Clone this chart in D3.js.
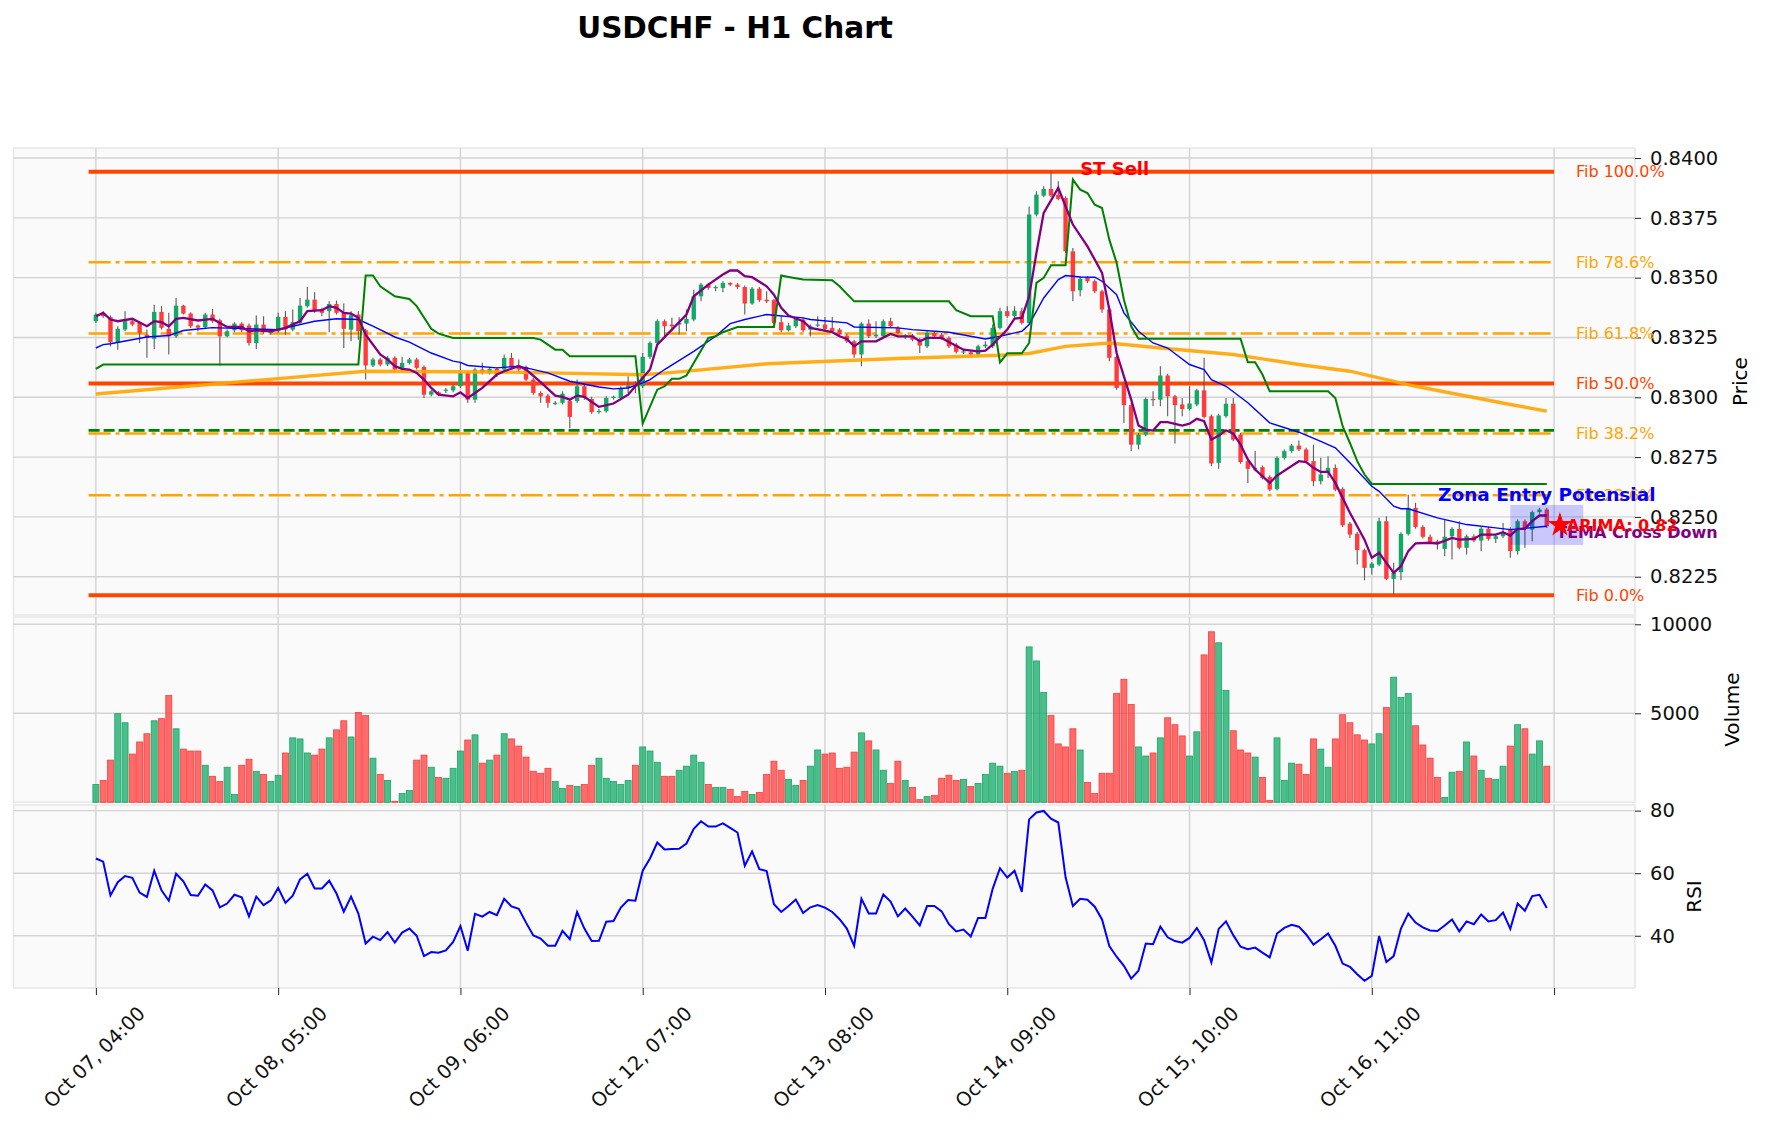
<!DOCTYPE html>
<html>
<head>
<meta charset="utf-8">
<script src="https://cdn.jsdelivr.net/npm/d3@7"></script>
<style>
  body { margin: 0; background: #fff; }
  svg { display: block; font-family: "DejaVu Sans", sans-serif; }
</style>
</head>
<body>
<svg width="1765" height="1134"></svg>
<script>
// ---- data (hourly bars, index 0..199) ----
var xTickIdx = [0, 25, 50, 75, 100, 125, 150, 175, 200];
var xLabels = ["Oct 07, 04:00", "Oct 08, 05:00", "Oct 09, 06:00", "Oct 12, 07:00",
  "Oct 13, 08:00", "Oct 14, 09:00", "Oct 15, 10:00", "Oct 16, 11:00", ""];

var openP = [
0.83318,0.83353,0.83335,0.83230,0.83283,0.83318,0.83311,0.83262,0.83244,0.83357,
0.83286,0.83255,0.83383,0.83350,0.83300,0.83293,0.83346,0.83322,0.83255,0.83280,
0.83308,0.83300,0.83227,0.83304,0.83269,0.83276,0.83336,0.83283,0.83311,0.83381,
0.83408,0.83369,0.83360,0.83390,0.83353,0.83283,0.83346,0.83280,0.83133,0.83158,
0.83137,0.83165,0.83116,0.83144,0.83158,0.83127,0.83011,0.83021,0.83027,0.83029,
0.83046,0.83102,0.82990,0.83116,0.83102,0.83119,0.83116,0.83165,0.83133,0.83127,
0.83074,0.83018,0.83007,0.82974,0.82977,0.82984,0.82984,0.83046,0.82993,0.82938,
0.82942,0.82997,0.82997,0.83039,0.83053,0.83046,0.83169,0.83227,0.83318,0.83304,
0.83304,0.83308,0.83325,0.83422,0.83471,0.83457,0.83457,0.83478,0.83471,0.83461,
0.83392,0.83454,0.83408,0.83406,0.83314,0.83280,0.83297,0.83325,0.83283,0.83300,
0.83304,0.83290,0.83283,0.83258,0.83234,0.83179,0.83308,0.83255,0.83255,0.83318,
0.83290,0.83251,0.83258,0.83241,0.83213,0.83269,0.83262,0.83248,0.83220,0.83188,
0.83188,0.83179,0.83213,0.83213,0.83290,0.83360,0.83339,0.83360,0.83311,0.83764,
0.83843,0.83871,0.83847,0.83833,0.83610,0.83447,0.83499,0.83485,0.83443,0.83367,
0.83169,0.83053,0.82967,0.82802,0.82844,0.82993,0.82990,0.83091,0.83004,0.82970,
0.82951,0.82970,0.83029,0.82921,0.82726,0.82921,0.82973,0.82844,0.82733,0.82698,
0.82708,0.82667,0.82617,0.82747,0.82775,0.82798,0.82782,0.82733,0.82649,0.82684,
0.82705,0.82617,0.82472,0.82430,0.82361,0.82287,0.82301,0.82482,0.82241,0.82269,
0.82429,0.82538,0.82458,0.82417,0.82398,0.82366,0.82419,0.82450,0.82371,0.82419,
0.82401,0.82451,0.82408,0.82419,0.82450,0.82357,0.82482,0.82447,0.82520,0.82531];

var highP = [
0.83353,0.83360,0.83342,0.83297,0.83360,0.83325,0.83318,0.83283,0.83387,0.83381,
0.83353,0.83415,0.83387,0.83355,0.83304,0.83353,0.83369,0.83328,0.83283,0.83314,
0.83314,0.83308,0.83342,0.83339,0.83280,0.83353,0.83360,0.83367,0.83415,0.83461,
0.83439,0.83374,0.83401,0.83404,0.83392,0.83360,0.83360,0.83286,0.83165,0.83165,
0.83172,0.83172,0.83169,0.83165,0.83165,0.83133,0.83032,0.83025,0.83039,0.83053,
0.83144,0.83109,0.83123,0.83144,0.83126,0.83126,0.83179,0.83185,0.83158,0.83133,
0.83081,0.83025,0.83015,0.82984,0.83025,0.82990,0.83074,0.83053,0.83002,0.82951,
0.83004,0.83007,0.83046,0.83088,0.83067,0.83185,0.83234,0.83325,0.83325,0.83332,
0.83335,0.83367,0.83450,0.83478,0.83478,0.83467,0.83485,0.83481,0.83478,0.83467,
0.83461,0.83461,0.83443,0.83411,0.83339,0.83311,0.83336,0.83332,0.83304,0.83339,
0.83336,0.83336,0.83290,0.83266,0.83241,0.83314,0.83325,0.83318,0.83325,0.83332,
0.83297,0.83265,0.83265,0.83248,0.83276,0.83276,0.83269,0.83255,0.83227,0.83199,
0.83195,0.83220,0.83234,0.83304,0.83374,0.83381,0.83381,0.83374,0.83798,0.83861,
0.83882,0.83943,0.83903,0.83840,0.83624,0.83506,0.83506,0.83492,0.83450,0.83374,
0.83174,0.83060,0.82977,0.82851,0.83000,0.83025,0.83130,0.83098,0.83011,0.82997,
0.83046,0.83036,0.83165,0.82928,0.82931,0.82997,0.82997,0.82851,0.82740,0.82775,
0.82715,0.82674,0.82754,0.82782,0.82805,0.82819,0.82789,0.82802,0.82747,0.82754,
0.82719,0.82624,0.82479,0.82437,0.82368,0.82312,0.82496,0.82503,0.82308,0.82436,
0.82593,0.82559,0.82465,0.82426,0.82405,0.82489,0.82457,0.82482,0.82426,0.82426,
0.82458,0.82458,0.82426,0.82475,0.82457,0.82489,0.82489,0.82527,0.82538,0.82538];

var lowP = [
0.83311,0.83332,0.83213,0.83199,0.83276,0.83297,0.83227,0.83165,0.83202,0.83283,
0.83179,0.83248,0.83346,0.83290,0.83276,0.83286,0.83311,0.83133,0.83251,0.83272,
0.83272,0.83216,0.83202,0.83266,0.83262,0.83269,0.83262,0.83276,0.83304,0.83374,
0.83353,0.83339,0.83272,0.83346,0.83206,0.83234,0.83241,0.83074,0.83127,0.83130,
0.83130,0.83109,0.83109,0.83137,0.83116,0.82997,0.83004,0.83004,0.83018,0.83021,
0.83039,0.82977,0.82977,0.83095,0.83095,0.83085,0.83109,0.83123,0.83109,0.83067,
0.83011,0.82977,0.82956,0.82967,0.82970,0.82872,0.82977,0.82990,0.82931,0.82931,
0.82935,0.82990,0.82990,0.83018,0.83018,0.83039,0.83160,0.83220,0.83248,0.83276,
0.83262,0.83276,0.83318,0.83401,0.83450,0.83443,0.83439,0.83464,0.83453,0.83346,
0.83387,0.83399,0.83394,0.83304,0.83272,0.83275,0.83290,0.83272,0.83255,0.83293,
0.83276,0.83269,0.83255,0.83227,0.83165,0.83130,0.83248,0.83248,0.83248,0.83290,
0.83262,0.83244,0.83234,0.83185,0.83206,0.83248,0.83241,0.83206,0.83183,0.83181,
0.83172,0.83172,0.83206,0.83206,0.83283,0.83332,0.83332,0.83304,0.83304,0.83757,
0.83837,0.83837,0.83824,0.83603,0.83401,0.83422,0.83478,0.83436,0.83353,0.83151,
0.83032,0.82893,0.82775,0.82782,0.82837,0.82963,0.82963,0.82921,0.82807,0.82921,
0.82945,0.82963,0.82911,0.82712,0.82701,0.82914,0.82816,0.82722,0.82642,0.82691,
0.82656,0.82607,0.82610,0.82740,0.82768,0.82775,0.82726,0.82628,0.82635,0.82663,
0.82607,0.82458,0.82412,0.82301,0.82235,0.82259,0.82294,0.82235,0.82175,0.82235,
0.82422,0.82451,0.82410,0.82389,0.82364,0.82336,0.82322,0.82364,0.82343,0.82394,
0.82357,0.82401,0.82391,0.82412,0.82329,0.82343,0.82371,0.82398,0.82513,0.82454];

var closeP = [
0.83346,0.83339,0.83230,0.83286,0.83318,0.83304,0.83269,0.83248,0.83357,0.83290,
0.83255,0.83383,0.83350,0.83297,0.83291,0.83346,0.83318,0.83255,0.83276,0.83308,
0.83280,0.83227,0.83304,0.83272,0.83276,0.83336,0.83283,0.83314,0.83383,0.83408,
0.83360,0.83353,0.83390,0.83353,0.83286,0.83343,0.83276,0.83133,0.83158,0.83137,
0.83165,0.83116,0.83144,0.83158,0.83123,0.83011,0.83025,0.83011,0.83032,0.83046,
0.83102,0.82990,0.83116,0.83102,0.83119,0.83095,0.83165,0.83130,0.83116,0.83074,
0.83018,0.83004,0.82977,0.82977,0.83015,0.82918,0.83046,0.82997,0.82938,0.82943,
0.82997,0.83002,0.83039,0.83049,0.83046,0.83169,0.83227,0.83318,0.83297,0.83297,
0.83311,0.83328,0.83422,0.83471,0.83457,0.83461,0.83478,0.83471,0.83461,0.83392,
0.83454,0.83406,0.83401,0.83311,0.83280,0.83300,0.83328,0.83280,0.83297,0.83304,
0.83286,0.83276,0.83262,0.83234,0.83179,0.83308,0.83255,0.83262,0.83318,0.83297,
0.83269,0.83258,0.83241,0.83216,0.83269,0.83255,0.83248,0.83213,0.83190,0.83192,
0.83179,0.83213,0.83220,0.83290,0.83360,0.83339,0.83362,0.83311,0.83764,0.83847,
0.83871,0.83843,0.83829,0.83610,0.83443,0.83495,0.83485,0.83443,0.83367,0.83165,
0.83039,0.82967,0.82802,0.82844,0.82993,0.82988,0.83091,0.83004,0.82967,0.82951,
0.82974,0.83029,0.82918,0.82723,0.82924,0.82973,0.82823,0.82729,0.82701,0.82705,
0.82663,0.82614,0.82747,0.82775,0.82798,0.82782,0.82733,0.82649,0.82677,0.82705,
0.82614,0.82465,0.82426,0.82361,0.82287,0.82305,0.82482,0.82241,0.82266,0.82429,
0.82538,0.82458,0.82417,0.82396,0.82391,0.82417,0.82450,0.82371,0.82419,0.82401,
0.82451,0.82408,0.82419,0.82436,0.82357,0.82482,0.82450,0.82520,0.82531,0.82461];

var volume = [
1000,1230,2370,4980,4470,2710,3390,3850,4580,4700,
6000,4130,2990,2880,2880,2080,1460,1170,1970,440,
2080,2420,1740,1570,1170,1520,2770,3620,3560,2770,
2650,2990,3620,4070,4580,3670,5040,4870,2480,1570,
1230,60,490,660,2370,2650,1970,1400,1350,1910,
2880,3500,3790,2200,2370,2650,3850,3560,3160,2540,
1740,1630,1910,1170,780,950,890,1000,2080,2480,
1350,1170,1000,1230,2080,3110,2880,2250,1460,1460,
1800,2030,2650,2250,1000,830,830,720,320,610,
440,550,1570,2310,1800,1290,950,1230,2030,2940,
2710,2770,1910,1970,2820,3900,3450,2940,1800,1060,
2310,1230,830,150,320,380,1350,1520,1230,1290,
890,1060,1570,2200,2030,1630,1740,1800,8730,7940,
6170,4870,3280,3110,4130,2940,1120,490,1630,1630,
6120,6910,5490,3110,2600,2770,3620,4750,4360,3730,
2600,3960,8280,9580,8960,6290,4020,2940,2770,2540,
1400,110,3620,1230,2200,2140,1570,3560,2990,1970,
3560,4920,4470,3790,3500,3280,3850,5320,7030,5890,
6120,4300,3220,2480,1400,270,1690,1740,3390,2600,
1800,1350,1290,2030,3160,4360,4130,2710,3450,2030];

var rsi = [
64.7,63.7,52.9,57.1,59.1,58.5,53.8,52.4,60.8,54.5,
51.2,59.8,57.4,53.0,52.8,56.4,54.5,49.1,50.3,53.1,
52.3,46.2,52.5,49.8,51.3,55.3,50.5,52.8,58.0,59.8,
55.1,55.1,57.6,53.5,47.7,52.5,47.1,37.5,39.7,38.6,
41.2,37.8,41.0,42.3,40.0,33.5,34.8,34.6,35.3,38.0,
43.1,35.2,47.0,46.1,47.6,46.6,51.8,49.4,48.6,44.2,
40.1,39.1,36.8,36.8,41.6,38.9,47.6,42.3,38.3,38.4,
44.5,44.7,49.0,51.4,51.2,60.8,64.7,69.8,67.6,67.7,
67.8,69.5,74.2,76.6,74.9,74.9,75.9,74.5,73.0,62.4,
67.0,61.3,60.7,50.1,47.6,49.5,51.6,47.3,49.1,49.8,
49.0,47.6,45.3,42.3,36.8,51.8,47.1,47.1,53.2,50.9,
46.2,48.7,46.1,43.3,49.5,49.5,47.8,43.7,41.4,42.0,
39.8,45.7,45.7,55.0,61.6,58.6,60.8,54.0,77.2,79.4,
79.9,77.4,76.2,58.7,49.5,51.8,51.5,49.3,45.2,36.7,
33.3,30.4,26.3,28.8,37.5,37.3,42.9,39.5,38.3,37.8,
39.3,42.5,38.6,31.5,42.2,44.6,40.2,36.5,35.7,36.2,
34.6,33.1,40.7,42.5,43.5,42.9,40.4,37.2,38.9,40.7,
36.8,31.1,30.1,27.7,25.6,27.2,39.9,31.6,33.5,42.3,
47.1,44.2,42.7,41.7,41.5,43.3,45.2,41.4,44.6,43.7,
46.8,44.6,45.0,47.4,42.2,50.3,48.0,52.7,53.1,48.9];

// indicator lines, [bar index, price]
var emaLine = [[0,0.83206],[1,0.83220],[2,0.83224],[7,0.83252],[10,0.83258],[12,0.83279],[16,0.83291],[20,0.83287],[25,0.83283],[30,0.83318],[33,0.83328],[36,0.83325],[38,0.83297],[41,0.83252],[43,0.83231],[46,0.83185],[49,0.83151],[50,0.83146],[51,0.83133],[55,0.83123],[58,0.83130],[62,0.83102],[65,0.83067],[69,0.83043],[71,0.83035],[73,0.83039],[75,0.83060],[76,0.83074],[78,0.83116],[82,0.83192],[85,0.83255],[87,0.83308],[89,0.83325],[92,0.83346],[93,0.83343],[97,0.83332],[98,0.83325],[103,0.83311],[104,0.83294],[110,0.83290],[112,0.83283],[117,0.83272],[122,0.83244],[124,0.83255],[127,0.83276],[128,0.83304],[130,0.83415],[132,0.83492],[133,0.83509],[135,0.83503],[137,0.83502],[138,0.83485],[140,0.83429],[141,0.83353],[143,0.83276],[145,0.83227],[147,0.83206],[150,0.83137],[152,0.83116],[153,0.83074],[155,0.83046],[158,0.82977],[161,0.82893],[165,0.82854],[168,0.82816],[170,0.82789],[172,0.82726],[175,0.82628],[176,0.82607],[178,0.82545],[179,0.82534],[180,0.82534],[184,0.82496],[188,0.82468],[192,0.82454],[194,0.82447],[199,0.82461]];

var temaLine = [[0,0.83339],[1,0.83353],[2,0.83325],[3,0.83318],[5,0.83328],[7,0.83297],[8,0.83318],[9,0.83314],[10,0.83297],[11,0.83328],[12,0.83332],[14,0.83321],[16,0.83328],[17,0.83311],[18,0.83294],[20,0.83294],[21,0.83276],[22,0.83280],[24,0.83276],[26,0.83290],[28,0.83318],[29,0.83360],[31,0.83364],[32,0.83381],[33,0.83374],[34,0.83353],[35,0.83350],[36,0.83332],[37,0.83262],[39,0.83179],[40,0.83158],[41,0.83130],[42,0.83119],[43,0.83116],[44,0.83102],[45,0.83074],[46,0.83039],[47,0.83011],[49,0.83004],[50,0.83021],[51,0.82997],[53,0.83039],[55,0.83095],[56,0.83109],[58,0.83130],[59,0.83116],[61,0.83063],[63,0.83007],[64,0.83002],[65,0.82990],[66,0.83007],[67,0.83002],[69,0.82960],[71,0.82974],[73,0.83011],[74,0.83046],[76,0.83116],[77,0.83220],[79,0.83283],[80,0.83314],[81,0.83346],[82,0.83422],[84,0.83471],[86,0.83513],[87,0.83530],[88,0.83530],[89,0.83506],[90,0.83502],[92,0.83464],[93,0.83429],[94,0.83374],[95,0.83342],[97,0.83318],[98,0.83290],[101,0.83272],[102,0.83255],[103,0.83244],[104,0.83213],[105,0.83234],[107,0.83234],[109,0.83265],[110,0.83255],[112,0.83255],[113,0.83234],[114,0.83248],[116,0.83248],[117,0.83231],[119,0.83199],[121,0.83192],[122,0.83195],[123,0.83220],[124,0.83252],[125,0.83283],[126,0.83329],[127,0.83332],[128,0.83422],[129,0.83603],[130,0.83771],[132,0.83875],[133,0.83798],[134,0.83722],[136,0.83631],[138,0.83520],[139,0.83367],[140,0.83185],[142,0.82990],[143,0.82882],[144,0.82865],[145,0.82861],[146,0.82896],[147,0.82896],[149,0.82882],[150,0.82890],[151,0.82910],[152,0.82900],[153,0.82823],[154,0.82840],[155,0.82862],[156,0.82848],[157,0.82802],[158,0.82740],[159,0.82698],[160,0.82670],[161,0.82642],[162,0.82673],[165,0.82733],[166,0.82729],[167,0.82705],[168,0.82688],[169,0.82688],[170,0.82642],[172,0.82517],[174,0.82405],[175,0.82329],[176,0.82350],[178,0.82266],[179,0.82294],[180,0.82357],[181,0.82389],[183,0.82392],[184,0.82389],[186,0.82412],[187,0.82405],[189,0.82408],[190,0.82426],[192,0.82426],[193,0.82436],[194,0.82422],[195,0.82450],[196,0.82450],[197,0.82482],[198,0.82506],[199,0.82506]];

var stLine = [[0,0.83119],[1,0.83137],[36,0.83137],[37,0.83509],[38,0.83509],[39,0.83464],[41,0.83422],[43,0.83411],[44,0.83381],[46,0.83286],[47,0.83266],[49,0.83248],[60,0.83248],[61,0.83241],[63,0.83199],[64,0.83199],[65,0.83172],[74,0.83172],[75,0.82890],[77,0.83032],[78,0.83046],[79,0.83077],[80,0.83077],[81,0.83091],[84,0.83248],[85,0.83255],[86,0.83272],[88,0.83294],[93,0.83294],[94,0.83509],[95,0.83503],[97,0.83492],[101,0.83489],[102,0.83464],[104,0.83401],[117,0.83401],[118,0.83364],[120,0.83339],[123,0.83339],[124,0.83146],[125,0.83184],[127,0.83184],[128,0.83227],[129,0.83478],[130,0.83499],[131,0.83552],[133,0.83552],[134,0.83910],[135,0.83868],[136,0.83854],[137,0.83805],[138,0.83791],[139,0.83659],[140,0.83562],[141,0.83408],[142,0.83297],[143,0.83245],[157,0.83245],[158,0.83146],[159,0.83146],[160,0.83095],[161,0.83025],[169,0.83025],[170,0.82997],[171,0.82879],[172,0.82809],[173,0.82733],[174,0.82677],[175,0.82638],[199,0.82638]];

var smaLine = [[0,0.83014],[37,0.83109],[55,0.83106],[62,0.83102],[75,0.83094],[80,0.83106],[92,0.83140],[110,0.83162],[124,0.83176],[128,0.83183],[133,0.83213],[139,0.83227],[146,0.83206],[156,0.83179],[165,0.83137],[172,0.83109],[181,0.83046],[194,0.82970],[199,0.82942]];

var fibLevels = [0.83943, 0.83564, 0.83267, 0.83058, 0.82849, 0.82591, 0.82173];
var fibNames = ["Fib 100.0%", "Fib 78.6%", "Fib 61.8%", "Fib 50.0%", "Fib 38.2%", "Fib 23.6%", "Fib 0.0%"];
var fibMajor = [true, false, false, true, false, false, true];
var supportLevel = 0.82862;

var priceTicks = [0.8225, 0.8250, 0.8275, 0.8300, 0.8325, 0.8350, 0.8375, 0.8400];
var volTicks = [5000, 10000];
var rsiTicks = [40, 60, 80];

var stSell = {idx: 135, price: 0.83954};
var zone = {i0: 194, i1: 204, top: 0.82550, bottom: 0.82383};
var arima = {idx: 200.8, price: 0.82466, label: "ARIMA: 0.82"};
var temaCross = {idx: 200.3, price: 0.82437, label: "TEMA Cross Down"};

// ---- layout ----
var svg = d3.select("svg"),
  left = 13.5,
  right = 1635;

var up = "#12a865", down = "#ff3b3b";

var x = d3.scaleLinear().domain([-11.3, 211.1]).range([left, right]);
var y = d3.scaleLinear().domain([0.8209, 0.84042]).range([615, 148]);
var yv = d3.scaleLinear().domain([0, 10410]).range([802.3, 617]);
var yr = d3.scaleLinear().domain([23.3, 81.8]).range([988, 805]);

var panels = [
  {scale: y, ticks: priceTicks, fmt: d3.format(".4f"), label: "Price", lx: 1740},
  {scale: yv, ticks: volTicks, fmt: d3.format("d"), label: "Volume", lx: 1732},
  {scale: yr, ticks: rsiTicks, fmt: d3.format("d"), label: "RSI", lx: 1694}
];

svg.append("text")
  .attr("x", 735).attr("y", 38)
  .attr("text-anchor", "middle")
  .attr("font-size", 29.5).attr("font-weight", "bold")
  .text("USDCHF - H1 Chart");

panels.forEach(function (p) {
  var r = p.scale.range();
  var g = svg.append("g");
  g.append("rect")
    .attr("x", left).attr("y", r[1])
    .attr("width", right - left).attr("height", r[0] - r[1])
    .attr("fill", "#fafafa").attr("stroke", "#e6e6e6").attr("stroke-width", 1.5);
  g.selectAll(".vg").data(xTickIdx).enter().append("line")
    .attr("x1", function (d) { return x(d); }).attr("x2", function (d) { return x(d); })
    .attr("y1", r[1]).attr("y2", r[0])
    .attr("stroke", "#d3d3d3").attr("stroke-width", 1.4);
  g.selectAll(".hg").data(p.ticks).enter().append("line")
    .attr("x1", left).attr("x2", right)
    .attr("y1", function (d) { return p.scale(d); }).attr("y2", function (d) { return p.scale(d); })
    .attr("stroke", "#d3d3d3").attr("stroke-width", 1.4);

  var ax = svg.append("g")
    .attr("transform", "translate(" + right + ",0)")
    .call(d3.axisRight(p.scale).tickValues(p.ticks).tickFormat(p.fmt).tickSize(6).tickPadding(9));
  ax.select(".domain").remove();
  ax.selectAll("text").attr("font-size", 19.5).attr("font-family", "DejaVu Sans").attr("fill", "#111");
  ax.selectAll("line").attr("stroke", "#222");

  svg.append("text")
    .attr("transform", "translate(" + p.lx + "," + (r[0] + r[1]) / 2 + ") rotate(-90)")
    .attr("text-anchor", "middle").attr("dy", "0.35em")
    .attr("font-size", 20)
    .text(p.label);
});

// x axis under the RSI panel
var xa = svg.append("g")
  .attr("transform", "translate(0,988)")
  .call(d3.axisBottom(x).tickValues(xTickIdx).tickSize(7)
    .tickFormat(function (d, i) { return xLabels[i]; }));
xa.select(".domain").remove();
xa.selectAll("line").attr("stroke", "#222");
xa.selectAll("text")
  .attr("font-size", 19.5).attr("font-family", "DejaVu Sans").attr("fill", "#111")
  .attr("y", 0).attr("dy", "0.35em")
  .attr("transform", "translate(-2,69) rotate(-45)")
  .style("text-anchor", "middle");

// ---- main panel ----
var main = svg.append("g");

main.selectAll(".fib").data(fibLevels).enter().append("line")
  .attr("x1", x(-1)).attr("x2", x(200))
  .attr("y1", function (d) { return y(d); }).attr("y2", function (d) { return y(d); })
  .attr("stroke", function (d, i) { return fibMajor[i] ? "#ff4500" : "#ffa500"; })
  .attr("stroke-width", function (d, i) { return fibMajor[i] ? 4 : 2.5; })
  .attr("stroke-dasharray", function (d, i) { return fibMajor[i] ? null : "22,5,4,5"; });

main.append("line")
  .attr("x1", x(-1)).attr("x2", x(200))
  .attr("y1", y(supportLevel)).attr("y2", y(supportLevel))
  .attr("stroke", "#008000").attr("stroke-width", 2.8)
  .attr("stroke-dasharray", "11,4");

main.selectAll(".fibl").data(fibLevels).enter().append("text")
  .attr("x", x(203)).attr("y", function (d) { return y(d); })
  .attr("dy", "0.35em")
  .attr("font-size", 16)
  .attr("fill", function (d, i) { return fibMajor[i] ? "#ff4500" : "#ffa500"; })
  .text(function (d, i) { return fibNames[i]; });

var bw = (x(1) - x(0)) * 0.6;
var idx = d3.range(openP.length);

main.selectAll(".wick").data(idx).enter().append("line")
  .attr("x1", function (i) { return x(i); }).attr("x2", function (i) { return x(i); })
  .attr("y1", function (i) { return y(highP[i]); }).attr("y2", function (i) { return y(lowP[i]); })
  .attr("stroke", "#5a5a5a").attr("stroke-width", 1.1);

main.selectAll(".body").data(idx).enter().append("rect")
  .attr("x", function (i) { return x(i) - bw / 2; })
  .attr("width", bw)
  .attr("y", function (i) { return y(Math.max(openP[i], closeP[i])); })
  .attr("height", function (i) { return Math.max(1.2, Math.abs(y(openP[i]) - y(closeP[i]))); })
  .attr("fill", function (i) { return closeP[i] >= openP[i] ? up : down; });

var line = d3.line()
  .x(function (d) { return x(d[0]); })
  .y(function (d) { return y(d[1]); });

main.append("path").datum(smaLine).attr("d", line)
  .attr("fill", "none").attr("stroke", "#ffa500").attr("stroke-width", 3.4).attr("opacity", 0.9);
main.append("path").datum(emaLine).attr("d", line)
  .attr("fill", "none").attr("stroke", "#0000ff").attr("stroke-width", 1.4);
main.append("path").datum(stLine).attr("d", line)
  .attr("fill", "none").attr("stroke", "#008000").attr("stroke-width", 2);
main.append("path").datum(temaLine).attr("d", line)
  .attr("fill", "none").attr("stroke", "#800080").attr("stroke-width", 2.3);

// annotations
main.append("text")
  .attr("x", x(stSell.idx)).attr("y", y(stSell.price)).attr("dy", "0.35em")
  .attr("font-size", 18).attr("font-weight", "bold").attr("fill", "#ff0000")
  .text("ST Sell");

main.append("rect")
  .attr("x", x(zone.i0)).attr("width", x(zone.i1) - x(zone.i0))
  .attr("y", y(zone.top)).attr("height", y(zone.bottom) - y(zone.top))
  .attr("fill", "#0000ff").attr("opacity", 0.2);

main.append("text")
  .attr("x", x((zone.i0 + zone.i1) / 2)).attr("y", y(zone.top) - 4)
  .attr("text-anchor", "middle")
  .attr("font-size", 18.5).attr("font-weight", "bold").attr("fill", "#0000ff")
  .text("Zona Entry Potensial");

main.append("text")
  .attr("x", x(temaCross.idx)).attr("y", y(temaCross.price)).attr("dy", "0.35em")
  .attr("font-size", 16).attr("font-weight", "bold").attr("fill", "#800080")
  .text(temaCross.label);

main.append("text")
  .attr("x", x(arima.idx) + 7).attr("y", y(arima.price)).attr("dy", "0.35em")
  .attr("font-size", 16).attr("font-weight", "bold").attr("fill", "#ff0000")
  .text(arima.label);

main.append("path")
  .attr("transform", "translate(" + x(arima.idx) + "," + y(arima.price) + ")")
  .attr("d", d3.symbol().type(d3.symbolStar).size(190)())
  .attr("fill", "#ff0000");

// ---- volume panel ----
var vw = (x(1) - x(0)) * 0.82;
svg.append("g").selectAll("rect").data(idx).enter().append("rect")
  .attr("x", function (i) { return x(i) - vw / 2; })
  .attr("width", vw)
  .attr("y", function (i) { return yv(volume[i]); })
  .attr("height", function (i) { return yv(0) - yv(volume[i]); })
  .attr("fill", function (i) { return closeP[i] >= openP[i] ? up : down; })
  .attr("fill-opacity", 0.75)
  .attr("stroke", function (i) { return closeP[i] >= openP[i] ? up : down; })
  .attr("stroke-width", 0.8);

// ---- RSI panel ----
svg.append("path").datum(rsi)
  .attr("d", d3.line().x(function (d, i) { return x(i); }).y(function (d) { return yr(d); }))
  .attr("fill", "none").attr("stroke", "#0000ff").attr("stroke-width", 2);
</script>
</body>
</html>
